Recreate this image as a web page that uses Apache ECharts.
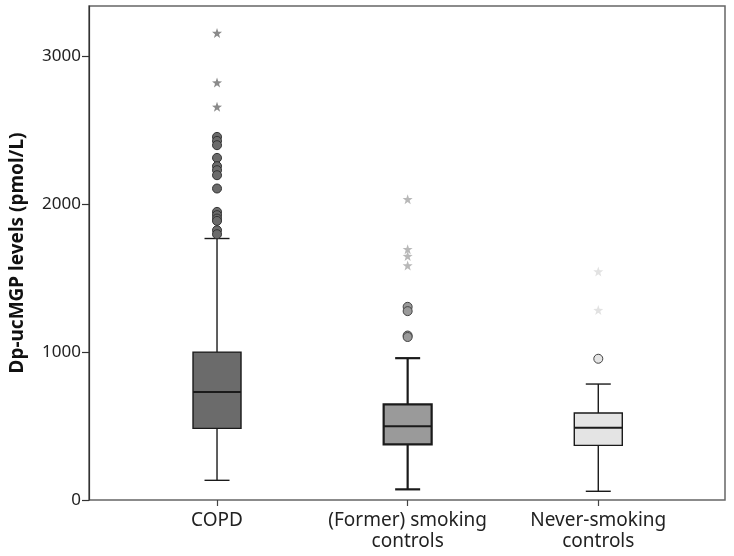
<!DOCTYPE html>
<html><head><meta charset="utf-8">
<script src="https://cdn.jsdelivr.net/npm/echarts@6/dist/echarts.min.js"></script>
<style>html,body{margin:0;padding:0;background:#fff}#c{width:734px;height:556px}</style>
</head><body><div id="c"></div>
<script>
// ---- data ----
const categories = ['COPD', '(Former) smoking\ncontrols', 'Never-smoking\ncontrols'];
// [lower whisker, Q1, median, Q3, upper whisker]
const copdBox = [133, 484, 730, 1000, 1768];
const formerBox = [72, 376, 498, 646, 959];
const neverBox = [59, 369, 489, 588, 784];
// outliers (circles)
const copdOutliers = [2455, 2428, 2399, 2313, 2257, 2230, 2196, 2106, 1948, 1926, 1903, 1887, 1824, 1797];
const formerOutliers = [1306, 1277, 1112, 1102];
const neverOutliers = [955];
// extreme values (stars)
const copdExtremes = [3158, 2822, 2658];
const formerExtremes = [2034, 1696, 1649, 1586];
const neverExtremes = [1545, 1284];
const yTicks = [0, 1000, 2000, 3000];

// ---- styles ----
const boxStyles = [
  { fill: '#6b6b6b', lw: 1.4 },
  { fill: '#9a9a9a', lw: 2.2 },
  { fill: '#e4e4e4', lw: 1.4 }
];
const outlierStyles = [
  { fill: '#6b6b6b', stroke: '#333' },
  { fill: '#9a9a9a', stroke: '#444' },
  { fill: '#e4e4e4', stroke: '#444' }
];
const starColors = ['#8a8a8a', '#b8b8b8', '#e2e2e2'];
const starPath = 'path://M0,-10 L2.35,-3.24 L9.51,-3.09 L3.8,1.24 L5.88,8.09 L0,4 L-5.88,8.09 L-3.8,1.24 L-9.51,-3.09 L-2.35,-3.24 Z';

const boxes = [copdBox, formerBox, neverBox];
const outliers = [copdOutliers, formerOutliers, neverOutliers];
const extremes = [copdExtremes, formerExtremes, neverExtremes];
const yMax = 3340;
const FONT = 'Noto Sans';

function renderBox(params, api) {
  const x = api.value(0);
  const lo = api.coord([x, api.value(1)]);
  const q1 = api.coord([x, api.value(2)]);
  const md = api.coord([x, api.value(3)]);
  const q3 = api.coord([x, api.value(4)]);
  const hi = api.coord([x, api.value(5)]);
  const cx = lo[0];
  const bw = 48, cw = 25;
  const st = boxStyles[params.dataIndex];
  const ls = { stroke: '#1a1a1a', lineWidth: st.lw };
  return {
    type: 'group', children: [
      { type: 'line', shape: { x1: cx, y1: hi[1], x2: cx, y2: q3[1] }, style: ls },
      { type: 'line', shape: { x1: cx, y1: q1[1], x2: cx, y2: lo[1] }, style: ls },
      { type: 'line', shape: { x1: cx - cw / 2, y1: hi[1], x2: cx + cw / 2, y2: hi[1] }, style: ls },
      { type: 'line', shape: { x1: cx - cw / 2, y1: lo[1], x2: cx + cw / 2, y2: lo[1] }, style: ls },
      { type: 'rect', shape: { x: cx - bw / 2, y: q3[1], width: bw, height: q1[1] - q3[1] }, style: { fill: st.fill, stroke: '#1a1a1a', lineWidth: st.lw } },
      { type: 'line', shape: { x1: cx - bw / 2, y1: md[1], x2: cx + bw / 2, y2: md[1] }, style: { stroke: '#1a1a1a', lineWidth: 2 } }
    ]
  };
}

const series = [{
  type: 'custom', xAxisIndex: 1, yAxisIndex: 1,
  renderItem: renderBox,
  data: boxes.map((b, i) => [i].concat(b)),
  silent: true
}];
outliers.forEach((arr, i) => {
  series.push({
    type: 'scatter', xAxisIndex: 1, yAxisIndex: 1, symbol: 'circle', symbolSize: 9,
    itemStyle: { color: outlierStyles[i].fill, borderColor: outlierStyles[i].stroke, borderWidth: 1, opacity: 1 },
    data: arr.map(v => [i, v]), silent: true, z: 3
  });
});
extremes.forEach((arr, i) => {
  series.push({
    type: 'scatter', xAxisIndex: 1, yAxisIndex: 1, symbol: starPath, symbolSize: 10,
    itemStyle: { color: starColors[i], opacity: 1 },
    data: arr.map(v => [i, v]), silent: true, z: 3
  });
});

const chart = echarts.init(document.getElementById('c'), null, { renderer: 'canvas' });
chart.setOption({
  animation: false,
  backgroundColor: '#fff',
  grid: [
    { left: 89, right: 9, top: 6, bottom: 56, show: true, borderColor: '#666', borderWidth: 1.5, backgroundColor: 'transparent' },
    { left: 121.7, right: 40.4, top: 6, bottom: 56 }
  ],
  xAxis: [
    { gridIndex: 0, type: 'value', min: 0, max: 1, show: false },
    {
      gridIndex: 1, type: 'category', data: categories, boundaryGap: true,
      axisLine: { show: false },
      axisTick: { show: true, alignWithLabel: true, length: 6, lineStyle: { color: '#444', width: 1.2 } },
      axisLabel: { color: '#222', fontSize: 19, fontFamily: FONT, margin: 10, lineHeight: 21, interval: 0 },
      splitLine: { show: false }
    }
  ],
  yAxis: [
    {
      gridIndex: 0, type: 'value', min: 0, max: yMax,
      axisLine: { show: true, lineStyle: { color: '#333', width: 1.2 } },
      axisTick: { show: true, length: 7, customValues: yTicks, lineStyle: { color: '#333', width: 1.2 } },
      axisLabel: { color: '#222', fontSize: 17, fontFamily: FONT, margin: 8, customValues: yTicks, formatter: v => String(v) },
      splitLine: { show: false },
      name: 'Dp-ucMGP levels (pmol/L)', nameLocation: 'middle', nameGap: 62,
      nameTextStyle: { color: '#111', fontSize: 19, fontWeight: 'bold', fontFamily: FONT }
    },
    { gridIndex: 1, type: 'value', min: 0, max: yMax, show: false }
  ],
  series: series
});
</script>
</body></html>
